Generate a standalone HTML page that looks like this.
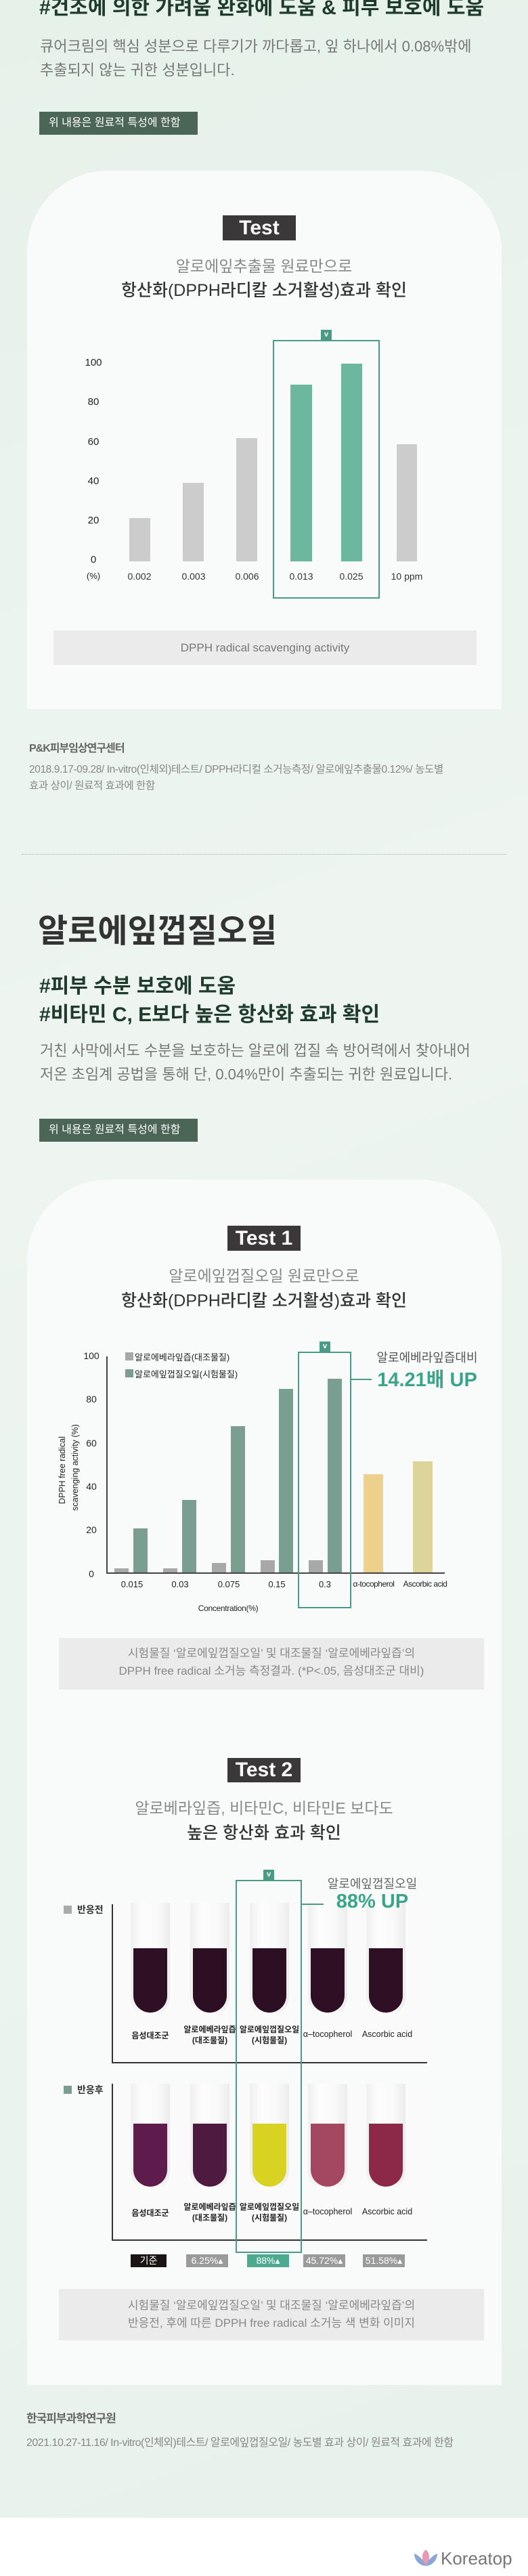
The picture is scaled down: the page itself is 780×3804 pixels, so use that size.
<!DOCTYPE html>
<html><head><meta charset="utf-8">
<style>
*{margin:0;padding:0;box-sizing:border-box}
body{width:780px;height:3804px;position:relative;overflow:hidden;font-family:"Liberation Sans","Noto Sans CJK KR",sans-serif;background:#fff}
.a{position:absolute}
.t{position:absolute;white-space:nowrap}
.c{text-align:center}
.bg{position:absolute;left:0;top:0;width:780px;height:3718px;background:linear-gradient(160deg,#e6f1ea 0%,#eef5f1 40%,#e8f2ec 100%)}
.card{position:absolute;left:40px;width:701px;background:#f8fbf9;border-radius:120px 120px 0 0}
.tag{position:absolute;left:58px;width:234px;height:34px;background:#4b6556;color:#fff;font-size:16px;line-height:34px;padding-left:14px}
.test{position:absolute;background:#3a3838;color:#fff;font-weight:bold;font-size:30px;text-align:center}
.gbar{position:absolute;background:#cccccc}
.grn{position:absolute;background:#6bb89e}
.g2{position:absolute;background:#a8a8a8}
.gr2{position:absolute;background:#7a9e90}
.vt{position:absolute;background:#4a9b86;color:#fff;font-size:11px;text-align:center;line-height:15px;font-weight:bold}
.hb{position:absolute;border:2px solid #4a9b86}
.note{position:absolute;left:87px;width:628px;background:#ebebeb;color:#888;font-size:17px;text-align:center}
.glass{position:absolute;width:58px;background:linear-gradient(90deg,#efefef,#fdfdfd 30%,#f9f9f9 70%,#ececec);border-radius:0 0 29px 29px}
.liq{position:absolute;width:50px;border-radius:0 0 25px 25px}
.badge{position:absolute;top:3329px;height:19px;width:62px;color:#fff;font-size:14px;line-height:19px;text-align:center}
</style></head><body>
<div class="bg"></div>

<div class="t" style="left:58px;top:-5px;font-size:30px;font-weight:bold;color:#1e3b2c;line-height:34px">#건조에 의한 가려움 완화에 도움 &amp; 피부 보호에 도움</div>
<div class="t" style="left:59px;top:51px;font-size:22px;color:#777;line-height:35px">큐어크림의 핵심 성분으로 다루기가 까다롭고, 잎 하나에서 0.08%밖에<br>추출되지 않는 귀한 성분입니다.</div>
<div class="tag" style="top:165px">위 내용은 원료적 특성에 한함</div>

<div class="card" style="top:252px;height:795px"></div>
<div class="test" style="left:329px;top:318px;width:108px;height:37px;line-height:37px">Test</div>
<div class="t c" style="left:0;width:780px;top:380px;font-size:23px;color:#888;line-height:26px">알로에잎추출물 원료만으로</div>
<div class="t c" style="left:0;width:780px;top:415px;font-size:25px;color:#333;line-height:28px;font-weight:500">항산화(DPPH라디칼 소거활성)효과 확인</div>

<div class="t c" style="left:113px;width:50px;top:527px;font-size:15px;color:#222">100</div>
<div class="t c" style="left:113px;width:50px;top:585px;font-size:15px;color:#222">80</div>
<div class="t c" style="left:113px;width:50px;top:644px;font-size:15px;color:#222">60</div>
<div class="t c" style="left:113px;width:50px;top:702px;font-size:15px;color:#222">40</div>
<div class="t c" style="left:113px;width:50px;top:760px;font-size:15px;color:#222">20</div>
<div class="t c" style="left:113px;width:50px;top:818px;font-size:15px;color:#222">0</div>
<div class="t c" style="left:113px;width:50px;top:843px;font-size:13px;color:#222">(%)</div>

<div class="hb" style="left:403px;top:502px;width:158px;height:382px"></div>
<div class="vt" style="left:474px;top:487px;width:16px;height:15px">v</div>
<div class="gbar" style="left:191px;top:765px;width:31px;height:64px"></div>
<div class="gbar" style="left:270px;top:713px;width:31px;height:116px"></div>
<div class="gbar" style="left:349px;top:647px;width:31px;height:182px"></div>
<div class="grn" style="left:429px;top:568px;width:32px;height:261px"></div>
<div class="grn" style="left:504px;top:537px;width:31px;height:292px"></div>
<div class="gbar" style="left:586px;top:656px;width:30px;height:173px"></div>
<div class="t c" style="left:166px;width:80px;top:843px;font-size:14px;color:#333">0.002</div>
<div class="t c" style="left:246px;width:80px;top:843px;font-size:14px;color:#333">0.003</div>
<div class="t c" style="left:325px;width:80px;top:843px;font-size:14px;color:#333">0.006</div>
<div class="t c" style="left:405px;width:80px;top:843px;font-size:14px;color:#333">0.013</div>
<div class="t c" style="left:479px;width:80px;top:843px;font-size:14px;color:#333">0.025</div>
<div class="t c" style="left:561px;width:80px;top:843px;font-size:14px;color:#333">10 ppm</div>

<div class="a" style="left:79px;top:931px;width:625px;height:51px;background:#ebebeb;color:#777;font-size:17px;text-align:center;line-height:51px">DPPH radical scavenging activity</div>

<div class="t" style="left:43px;top:1091px;font-size:16px;font-weight:bold;color:#666;letter-spacing:-1px">P&amp;K피부임상연구센터</div>
<div class="t" style="left:43px;top:1125px;font-size:15.5px;color:#888;line-height:24px;letter-spacing:-0.4px">2018.9.17-09.28/ In-vitro(인체외)테스트/ DPPH라디컬 소거능측정/ 알로에잎추출물0.12%/ 농도별<br>효과 상이/ 원료적 효과에 한함</div>

<div class="a" style="left:32px;top:1261px;width:716px;border-top:1px dotted #aaa"></div>

<div class="t" style="left:56px;top:1349px;font-size:48px;font-weight:bold;color:#333;line-height:54px">알로에잎껍질오일</div>
<div class="t" style="left:58px;top:1436px;font-size:30px;font-weight:bold;color:#1e3b2c;line-height:42px">#피부 수분 보호에 도움<br>#비타민 C, E보다 높은 항산화 효과 확인</div>
<div class="t" style="left:59px;top:1534px;font-size:22px;color:#777;line-height:35px">거친 사막에서도 수분을 보호하는 알로에 껍질 속 방어력에서 찾아내어<br>저온 초임계 공법을 통해 단, 0.04%만이 추출되는 귀한 원료입니다.</div>
<div class="tag" style="top:1652px">위 내용은 원료적 특성에 한함</div>

<div class="card" style="top:1742px;height:1780px"></div>
<div class="test" style="left:336px;top:1810px;width:108px;height:37px;line-height:37px">Test 1</div>
<div class="t c" style="left:0;width:780px;top:1871px;font-size:23px;color:#888;line-height:26px">알로에잎껍질오일 원료만으로</div>
<div class="t c" style="left:0;width:780px;top:1907px;font-size:25px;color:#333;line-height:28px;font-weight:500">항산화(DPPH라디칼 소거활성)효과 확인</div>

<div class="t c" style="left:110px;width:50px;top:1994px;font-size:14px;color:#222">100</div>
<div class="t c" style="left:110px;width:50px;top:2058px;font-size:14px;color:#222">80</div>
<div class="t c" style="left:110px;width:50px;top:2123px;font-size:14px;color:#222">60</div>
<div class="t c" style="left:110px;width:50px;top:2187px;font-size:14px;color:#222">40</div>
<div class="t c" style="left:110px;width:50px;top:2251px;font-size:14px;color:#222">20</div>
<div class="t c" style="left:110px;width:50px;top:2316px;font-size:14px;color:#222">0</div>
<div class="t c" style="left:42px;width:120px;top:2152px;font-size:12.5px;color:#222;line-height:19px;transform:rotate(-90deg)">DPPH free radical<br>scavenging activity (%)</div>
<div class="a" style="left:157px;top:2003px;width:1.5px;height:320px;background:#444"></div>
<div class="a" style="left:157px;top:2322px;width:500px;height:1.5px;background:#444"></div>
<div class="a" style="left:185px;top:1997px;width:12px;height:12px;background:#a8a8a8"></div>
<div class="t" style="left:199px;top:1994px;font-size:13px;color:#222">알로에베라잎즙(대조물질)</div>
<div class="a" style="left:185px;top:2022px;width:12px;height:12px;background:#7a9e90"></div>
<div class="t" style="left:199px;top:2019px;font-size:13px;color:#222">알로에잎껍질오일(시험물질)</div>

<div class="hb" style="left:440px;top:1996px;width:79px;height:379px"></div>
<div class="vt" style="left:472px;top:1981px;width:16px;height:15px">v</div>
<div class="g2" style="left:169px;top:2316px;width:21px;height:6px"></div>
<div class="gr2" style="left:197px;top:2257px;width:21px;height:65px"></div>
<div class="g2" style="left:241px;top:2316px;width:21px;height:6px"></div>
<div class="gr2" style="left:269px;top:2215px;width:21px;height:107px"></div>
<div class="g2" style="left:313px;top:2308px;width:21px;height:14px"></div>
<div class="gr2" style="left:341px;top:2106px;width:21px;height:216px"></div>
<div class="g2" style="left:385px;top:2304px;width:21px;height:18px"></div>
<div class="gr2" style="left:412px;top:2051px;width:21px;height:271px"></div>
<div class="g2" style="left:456px;top:2304px;width:21px;height:18px"></div>
<div class="gr2" style="left:484px;top:2036px;width:21px;height:286px"></div>
<div class="a" style="left:537px;top:2177px;width:29px;height:145px;background:#ecd08c"></div>
<div class="a" style="left:610px;top:2158px;width:29px;height:164px;background:#ddd49a"></div>
<div class="a" style="left:519px;top:2036px;width:30px;height:1.5px;background:#4a9b86"></div>
<div class="t c" style="left:551px;width:160px;top:1991px;font-size:18px;color:#555">알로에베라잎즙대비</div>
<div class="t c" style="left:551px;width:160px;top:2014px;font-size:29px;font-weight:bold;color:#3aa58a">14.21배 UP</div>
<div class="t c" style="left:160px;width:70px;top:2332px;font-size:13px;color:#222">0.015</div>
<div class="t c" style="left:231px;width:70px;top:2332px;font-size:13px;color:#222">0.03</div>
<div class="t c" style="left:303px;width:70px;top:2332px;font-size:13px;color:#222">0.075</div>
<div class="t c" style="left:374px;width:70px;top:2332px;font-size:13px;color:#222">0.15</div>
<div class="t c" style="left:445px;width:70px;top:2332px;font-size:13px;color:#222">0.3</div>
<div class="t c" style="left:512px;width:80px;top:2332px;font-size:12px;color:#222;letter-spacing:-0.5px">α-tocopherol</div>
<div class="t c" style="left:588px;width:80px;top:2332px;font-size:12px;color:#222;letter-spacing:-0.5px">Ascorbic acid</div>
<div class="t c" style="left:277px;width:120px;top:2368px;font-size:12px;color:#222;letter-spacing:-0.3px">Concentration(%)</div>

<div class="note" style="left:87px;top:2419px;height:76px;padding-top:10px;line-height:26px">시험물질 ‘알로에잎껍질오일’ 및 대조물질 ‘알로에베라잎즙’의<br>DPPH free radical 소거능 측정결과. (*P&lt;.05, 음성대조군 대비)</div>

<div class="test" style="left:336px;top:2596px;width:108px;height:36px;line-height:36px">Test 2</div>
<div class="t c" style="left:0;width:780px;top:2657px;font-size:23px;color:#888;line-height:26px">알로베라잎즙, 비타민C, 비타민E 보다도</div>
<div class="t c" style="left:0;width:780px;top:2693px;font-size:25px;color:#333;line-height:28px;font-weight:500">높은 항산화 효과 확인</div>

<div class="a" style="left:165px;top:2810px;width:475px;height:236px;background:#fafafa"></div>
<div class="a" style="left:165px;top:3076px;width:475px;height:232px;background:#fafafa"></div>
<div class="a" style="left:165px;top:2812px;width:1.5px;height:234px;background:#333"></div>
<div class="a" style="left:165px;top:3045px;width:466px;height:1.5px;background:#333"></div>
<div class="a" style="left:165px;top:3077px;width:1.5px;height:231px;background:#333"></div>
<div class="a" style="left:165px;top:3307px;width:466px;height:1.5px;background:#333"></div>

<div class="glass" style="left:193px;top:2810px;height:168px"></div>
<div class="glass" style="left:281px;top:2810px;height:168px"></div>
<div class="glass" style="left:369px;top:2810px;height:168px"></div>
<div class="glass" style="left:455px;top:2810px;height:168px"></div>
<div class="glass" style="left:541px;top:2810px;height:168px"></div>
<div class="liq" style="left:197px;top:2877px;height:95px;background:#2e0f24"></div>
<div class="liq" style="left:285px;top:2877px;height:95px;background:#2c0f22"></div>
<div class="liq" style="left:373px;top:2877px;height:95px;background:#2c0f22"></div>
<div class="liq" style="left:459px;top:2877px;height:95px;background:#2e0f24"></div>
<div class="liq" style="left:545px;top:2877px;height:95px;background:#2e0f24"></div>

<div class="glass" style="left:193px;top:3077px;height:158px"></div>
<div class="glass" style="left:281px;top:3077px;height:158px"></div>
<div class="glass" style="left:369px;top:3077px;height:158px"></div>
<div class="glass" style="left:455px;top:3077px;height:158px"></div>
<div class="glass" style="left:541px;top:3077px;height:158px"></div>
<div class="liq" style="left:197px;top:3136px;height:93px;background:#5e1c4c"></div>
<div class="liq" style="left:285px;top:3136px;height:93px;background:#4f1a3f"></div>
<div class="liq" style="left:373px;top:3136px;height:93px;background:#d8d322"></div>
<div class="liq" style="left:459px;top:3136px;height:93px;background:#a44862"></div>
<div class="liq" style="left:545px;top:3136px;height:93px;background:#8c2848"></div>

<div class="t c" style="left:172px;width:100px;top:2997px;font-size:12px;color:#222;font-weight:bold">음성대조군</div>
<div class="t c" style="left:258px;width:104px;top:2989px;font-size:12px;color:#222;line-height:16px;font-weight:bold">알로에베라잎즙<br>(대조물질)</div>
<div class="t c" style="left:346px;width:104px;top:2989px;font-size:12px;color:#222;line-height:16px;font-weight:bold">알로에잎껍질오일<br>(시험물질)</div>
<div class="t c" style="left:434px;width:100px;top:2997px;font-size:12.5px;color:#222">α–tocopherol</div>
<div class="t c" style="left:522px;width:100px;top:2997px;font-size:12.5px;color:#222">Ascorbic acid</div>
<div class="t c" style="left:172px;width:100px;top:3259px;font-size:12px;color:#222;font-weight:bold">음성대조군</div>
<div class="t c" style="left:258px;width:104px;top:3251px;font-size:12px;color:#222;line-height:16px;font-weight:bold">알로에베라잎즙<br>(대조물질)</div>
<div class="t c" style="left:346px;width:104px;top:3251px;font-size:12px;color:#222;line-height:16px;font-weight:bold">알로에잎껍질오일<br>(시험물질)</div>
<div class="t c" style="left:434px;width:100px;top:3259px;font-size:12.5px;color:#222">α–tocopherol</div>
<div class="t c" style="left:522px;width:100px;top:3259px;font-size:12.5px;color:#222">Ascorbic acid</div>

<div class="hb" style="left:348px;top:2776px;width:98px;height:551px"></div>
<div class="vt" style="left:389px;top:2761px;width:16px;height:15px">v</div>
<div class="a" style="left:446px;top:2811px;width:32px;height:1.5px;background:#4a9b86"></div>
<div class="t c" style="left:470px;width:160px;top:2768px;font-size:18px;color:#666">알로에잎껍질오일</div>
<div class="t c" style="left:470px;width:160px;top:2792px;font-size:29px;font-weight:bold;color:#3aa58a">88% UP</div>

<div class="a" style="left:94px;top:2814px;width:12px;height:12px;background:#aaa"></div>
<div class="t" style="left:114px;top:2810px;font-size:14px;color:#333;font-weight:bold">반응전</div>
<div class="a" style="left:94px;top:3080px;width:12px;height:12px;background:#7a9e90"></div>
<div class="t" style="left:114px;top:3076px;font-size:14px;color:#333;font-weight:bold">반응후</div>

<div class="badge" style="left:193px;width:53px;background:#1a1414">기준</div>
<div class="badge" style="left:275px;background:#9a9a9a">6.25%▴</div>
<div class="badge" style="left:365px;background:#4caa8f">88%▴</div>
<div class="badge" style="left:448px;background:#9a9a9a">45.72%▴</div>
<div class="badge" style="left:536px;background:#9a9a9a">51.58%▴</div>

<div class="note" style="top:3380px;height:76px;padding-top:12px;line-height:26px">시험물질 ‘알로에잎껍질오일’ 및 대조물질 ‘알로에베라잎즙’의<br>반응전, 후에 따른 DPPH free radical 소거능 색 변화 이미지</div>

<div class="t" style="left:39px;top:3557px;font-size:17px;font-weight:bold;color:#666;letter-spacing:-1px">한국피부과학연구원</div>
<div class="t" style="left:39px;top:3593px;font-size:16px;color:#888;letter-spacing:-0.5px">2021.10.27-11.16/ In-vitro(인체외)테스트/ 알로에잎껍질오일/ 농도별 효과 상이/ 원료적 효과에 한함</div>

<svg class="a" style="left:608px;top:3763px" width="42" height="30" viewBox="0 0 42 30">
<path d="M21 2 C14 8 14 18 21 26 C28 18 28 8 21 2Z" fill="#e79ab4"/>
<path d="M4 8 C4 18 12 26 21 26 C18 18 12 11 4 8Z" fill="#8aa6d6"/>
<path d="M38 8 C38 18 30 26 21 26 C24 18 30 11 38 8Z" fill="#8aa6d6"/>
</svg>
<div class="t" style="left:651px;top:3763px;font-size:26px;color:#777;line-height:30px">Koreatop</div>
</body></html>
